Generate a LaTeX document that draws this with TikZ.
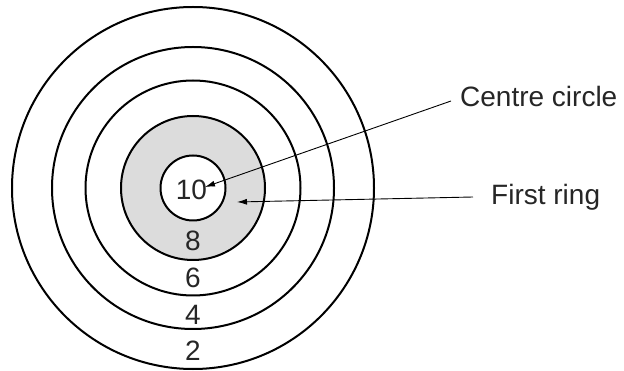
\documentclass[tikz,border=0pt]{standalone}
\usepackage{fontspec}
\setmainfont{Liberation Sans}
\usetikzlibrary{arrows.meta}
\definecolor{ringgray}{RGB}{220,220,220}
\tikzset{
  ring/.style={draw=black, line width=2pt},
  digit/.style={anchor=base, inner sep=0pt, font=\fontsize{28}{30}\selectfont, text=black!85},
  callout/.style={anchor=base west, inner sep=0pt, font=\fontsize{28}{30}\selectfont, text=black!85},
  pointer/.style={line width=0.9pt, -{Latex[length=10pt,width=6pt]}}
}
\begin{document}
\begin{tikzpicture}[x=1pt,y=-1pt]
\useasboundingbox (0,0) rectangle (624,371);
\coordinate (c) at (193,188);
% fills
\fill[ringgray] (c) circle[radius=72];
\fill[white] (c) circle[radius=32.5];
% rings
\draw[ring] (c) circle[radius=181];
\draw[ring] (c) circle[radius=141];
\draw[ring] (c) circle[radius=107.5];
\draw[ring] (c) circle[radius=72];
\draw[ring] (c) circle[radius=32.5];
% scores
\node[digit] (s10) at (191.5,200) {10};
\node[digit] (s8) at (193,251) {8};
\node[digit] (s6) at (193,288) {6};
\node[digit] (s4) at (193,325) {4};
\node[digit] (s2) at (193,360) {2};
% callouts
\node[callout] (centre) at (460,107) {Centre circle};
\node[callout] (first) at (491,205) {First ring};
\coordinate (centreStart) at (451,101);
\coordinate (centreTip) at (205,187);
\coordinate (firstStart) at (473,197);
\coordinate (firstTip) at (237,202);
\draw[pointer] (centreStart) -- (centreTip);
\draw[pointer] (firstStart) -- (firstTip);
\end{tikzpicture}
\end{document}
